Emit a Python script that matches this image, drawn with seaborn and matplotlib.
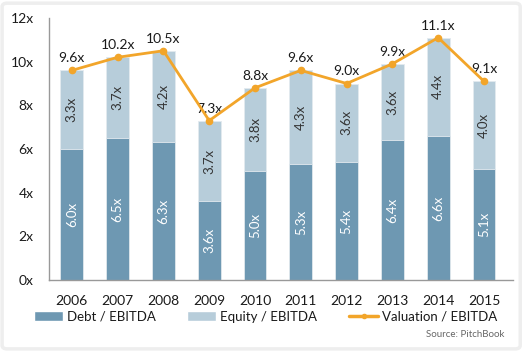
import matplotlib
matplotlib.use("Agg")
import matplotlib.pyplot as plt
import seaborn as sns
import pandas as pd
from matplotlib.patches import FancyBboxPatch
from matplotlib.lines import Line2D
from matplotlib.patches import Patch

years = ["2006", "2007", "2008", "2009", "2010", "2011", "2012", "2013", "2014", "2015"]
debt = [6.0, 6.5, 6.3, 3.6, 5.0, 5.3, 5.4, 6.4, 6.6, 5.1]
equity = [3.3, 3.7, 4.2, 3.7, 3.8, 4.3, 3.6, 3.6, 4.4, 4.0]
valuation = [9.6, 10.2, 10.5, 7.3, 8.8, 9.6, 9.0, 9.9, 11.1, 9.1]
yticks = [0, 2, 4, 6, 8, 10, 12]

DEBT_C = "#6e98b2"
EQ_C = "#b7cdda"
LINE_C = "#f2a52a"
TXT = "#1a1a1a"

sns.set_style("white")
plt.rcParams["font.family"] = ["Lato", "DejaVu Sans"]

df = pd.DataFrame({"year": years, "debt": debt, "equity": equity, "valuation": valuation})

fig = plt.figure(figsize=(5.26, 3.51), dpi=100)
fig.patch.set_facecolor("white")
ax = fig.add_axes([0.093, 0.2023, 0.882, 0.7464])

sns.barplot(data=df, x="year", y="valuation", color=EQ_C, width=0.5, ax=ax,
            saturation=1, edgecolor="#e3eaef", linewidth=0.6)
sns.barplot(data=df, x="year", y="debt", color=DEBT_C, width=0.5, ax=ax,
            saturation=1, edgecolor="#e3eaef", linewidth=0.6)

xs = list(range(len(years)))
ax.plot(xs, valuation, color=LINE_C, lw=2, marker="o", ms=4.5, zorder=5)

for i in xs:
    ax.text(i, debt[i] / 2, f"{debt[i]:.1f}x", rotation=90, ha="center", va="center",
            color="white", fontsize=9.5)
    ax.text(i, (debt[i] + valuation[i]) / 2, f"{equity[i]:.1f}x", rotation=90,
            ha="center", va="center", color="#333333", fontsize=9.5)
    ax.text(i, valuation[i] + 0.28, f"{valuation[i]:.1f}x", ha="center", va="bottom",
            color=TXT, fontsize=10)

ax.set_ylim(0, 12)
ax.set_xlim(-0.5, 9.63)
ax.set_yticks(yticks)
ax.set_yticklabels([f"{t}x" for t in yticks], fontsize=10, color=TXT)
ax.set_xticks(xs)
ax.set_xticklabels(years, fontsize=10, color=TXT)
ax.tick_params(axis="both", length=0)
ax.tick_params(axis="y", pad=11)
ax.tick_params(axis="x", pad=11)
ax.set_xlabel("")
ax.set_ylabel("")
for s in ["top", "right"]:
    ax.spines[s].set_visible(False)
for s in ["left", "bottom"]:
    ax.spines[s].set_color("#999999")
    ax.spines[s].set_linewidth(1)

handles = [Patch(facecolor=DEBT_C), Patch(facecolor=EQ_C),
           Line2D([0], [0], color=LINE_C, lw=2.5, marker="o", ms=3)]
labels = ["Debt / EBITDA", "Equity / EBITDA", "Valuation / EBITDA"]
leg = fig.legend(handles, labels, loc="center", bbox_to_anchor=(0.505, 0.098), ncol=3,
                 frameon=False, fontsize=9.5, handlelength=2.2, handleheight=0.8,
                 handletextpad=0.3, columnspacing=2.4)
for t in leg.get_texts():
    t.set_color(TXT)

fig.text(0.958, 0.048, "Source: PitchBook", ha="right", va="center", fontsize=7,
         color="#666666")

border = FancyBboxPatch((0.004, 0.006), 0.985, 0.985, boxstyle="round,pad=0,rounding_size=0.01",
                        transform=fig.transFigure, facecolor="none", edgecolor="#eeeeee",
                        linewidth=2.5)
fig.patches.append(border)

fig.savefig("out.png", dpi=100)
